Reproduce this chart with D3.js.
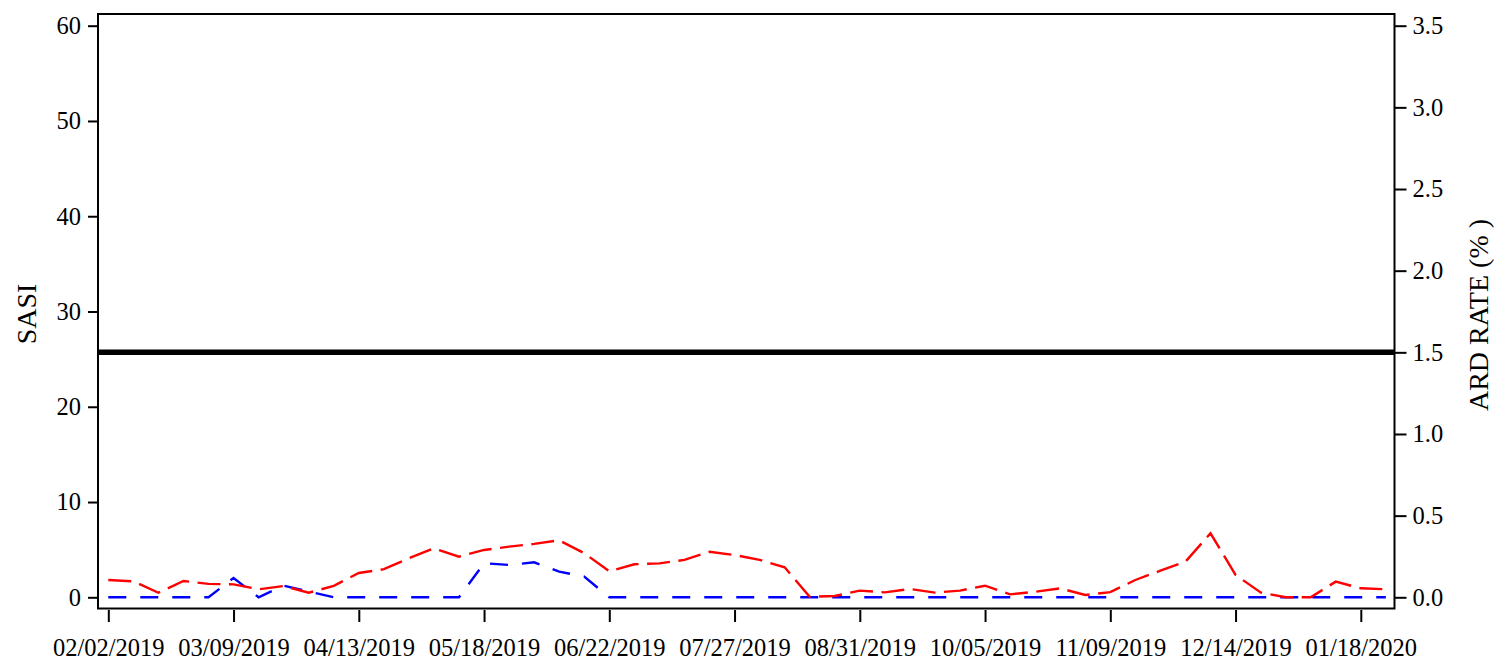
<!DOCTYPE html>
<html>
<head>
<meta charset="utf-8">
<script src="https://cdn.jsdelivr.net/npm/d3@7"></script>
<style>
    body { margin: 0; background: white; }
    svg { display: block; font-family: "Liberation Serif", "Times New Roman", serif; }
    .tick text { font-size: 24.5px; fill: black; font-family: "Liberation Serif", "Times New Roman", serif; }
    .tick line { stroke: black; stroke-width: 2; }
    .axisTitle { font-size: 28px; fill: black; }
</style>
</head>
<body>
<script>
'use strict';

// weekly categories (week starting dates)
const weeks = [
    '02/02/2019', '02/09/2019', '02/16/2019', '02/23/2019', '03/02/2019', '03/09/2019', '03/16/2019',
    '03/23/2019', '03/30/2019', '04/06/2019', '04/13/2019', '04/20/2019', '04/27/2019', '05/04/2019',
    '05/11/2019', '05/18/2019', '05/25/2019', '06/01/2019', '06/08/2019', '06/15/2019', '06/22/2019',
    '06/29/2019', '07/06/2019', '07/13/2019', '07/20/2019', '07/27/2019', '08/03/2019', '08/10/2019',
    '08/17/2019', '08/24/2019', '08/31/2019', '09/07/2019', '09/14/2019', '09/21/2019', '09/28/2019',
    '10/05/2019', '10/12/2019', '10/19/2019', '10/26/2019', '11/02/2019', '11/09/2019', '11/16/2019',
    '11/23/2019', '11/30/2019', '12/07/2019', '12/14/2019', '12/21/2019', '12/28/2019', '01/04/2020',
    '01/11/2020', '01/18/2020', '01/25/2020'
];

// SASI (left axis), blue
const sasi = [
    0, 0, 0, 0, 0, 2.03, 0, 1.22, 0.6, 0, 0, 0, 0, 0,
    0, 3.57, 3.4, 3.67, 2.69, 2.17, 0, 0, 0, 0, 0, 0, 0, 0,
    0, 0, 0, 0, 0, 0, 0, 0, 0, 0, 0, 0, 0, 0,
    0, 0, 0, 0, 0, 0, 0, 0, 0, 0
];

// ARD rate in % (right axis), red
const ardRate = [
    0.106, 0.098, 0.028, 0.100, 0.082, 0.079, 0.049, 0.069, 0.028, 0.070, 0.149, 0.172, 0.239, 0.300,
    0.249, 0.290, 0.310, 0.327, 0.349, 0.270, 0.159, 0.202, 0.208, 0.229, 0.279, 0.259, 0.229, 0.184,
    0.003, 0.008, 0.041, 0.030, 0.051, 0.029, 0.041, 0.071, 0.018, 0.034, 0.055, 0.014, 0.032, 0.106,
    0.163, 0.218, 0.392, 0.137, 0.030, 0, 0, 0.096, 0.055, 0.049
];

const threshold = 1.5; // ARD rate reference line (%)

const xTickLabels = ['02/02/2019', '03/09/2019', '04/13/2019', '05/18/2019', '06/22/2019', '07/27/2019',
    '08/31/2019', '10/05/2019', '11/09/2019', '12/14/2019', '01/18/2020'];
const leftTicks = [0, 10, 20, 30, 40, 50, 60];
const rightTicks = [0, 0.5, 1.0, 1.5, 2.0, 2.5, 3.0, 3.5];

(function () {

    const parse = d3.utcParse('%m/%d/%Y');

    function getPlotArea() {
        return {
            svg: { width: 1494, height: 660 },
            frame: { left: 98, right: 1394.5, top: 14, bottom: 608.5 },
            xRange: [108.3, 1360.8],   // first week .. 01/18/2020
            yRange: [597.3, 25.7]
        };
    }

    function makeScales(plot) {
        return {
            x: d3.scaleUtc()
                .domain([parse(weeks[0]), parse('01/18/2020')])
                .range(plot.xRange),
            yLeft: d3.scaleLinear().domain([0, 60]).range(plot.yRange),
            yRight: d3.scaleLinear().domain([0, 3.5]).range(plot.yRange)
        };
    }

    function appendFrame(svg, plot) {
        const f = plot.frame;
        svg.append('rect')
            .attr('x', f.left)
            .attr('y', f.top)
            .attr('width', f.right - f.left)
            .attr('height', f.bottom - f.top)
            .attr('fill', 'none')
            .attr('stroke', 'black')
            .attr('stroke-width', 2);
    }

    function appendXAxis(svg, scales, plot) {
        const axis = d3.axisBottom(scales.x)
            .tickValues(xTickLabels.map(parse))
            .tickFormat(d3.utcFormat('%m/%d/%Y'))
            .tickSize(12);
        const g = svg.append('g')
            .attr('transform', 'translate(0,' + (plot.frame.bottom + 1.5) + ')')
            .call(axis)
            .attr('font-family', null)
            .attr('font-size', null);
        g.select('.domain').remove();
        g.selectAll('.tick text').attr('y', 29).attr('dy', '0.71em');
    }

    function appendLeftAxis(svg, scales, plot) {
        const axis = d3.axisLeft(scales.yLeft)
            .tickValues(leftTicks)
            .tickSize(10)
            .tickPadding(7);
        const g = svg.append('g')
            .attr('transform', 'translate(' + plot.frame.left + ',0)')
            .call(axis)
            .attr('font-family', null)
            .attr('font-size', null);
        g.select('.domain').remove();
    }

    function appendRightAxis(svg, scales, plot) {
        const axis = d3.axisRight(scales.yRight)
            .tickValues(rightTicks)
            .tickFormat(d3.format('.1f'))
            .tickSize(12)
            .tickPadding(6);
        const g = svg.append('g')
            .attr('transform', 'translate(' + plot.frame.right + ',0)')
            .call(axis)
            .attr('font-family', null)
            .attr('font-size', null);
        g.select('.domain').remove();
    }

    function appendThreshold(svg, scales, plot) {
        svg.append('line')
            .attr('x1', plot.frame.left)
            .attr('x2', plot.frame.right)
            .attr('y1', scales.yRight(threshold))
            .attr('y2', scales.yRight(threshold))
            .attr('stroke', 'black')
            .attr('stroke-width', 5.5);
    }

    function appendSeries(svg, values, x, y, color, dash) {
        const line = d3.line()
            .x((d, i) => x(parse(weeks[i])))
            .y((d) => y(d));
        svg.append('path')
            .datum(values)
            .attr('d', line)
            .attr('fill', 'none')
            .attr('stroke', color)
            .attr('stroke-width', 2.4)
            .attr('stroke-dasharray', dash);
    }

    function appendTitles(svg) {
        svg.append('text')
            .attr('class', 'axisTitle')
            .attr('transform', 'translate(36,314) rotate(-90)')
            .attr('text-anchor', 'middle')
            .text('SASI');
        svg.append('text')
            .attr('class', 'axisTitle')
            .attr('transform', 'translate(1488,315) rotate(-90)')
            .attr('text-anchor', 'middle')
            .text('ARD RATE (% )');
    }

    function draw() {
        const plot = getPlotArea();
        const scales = makeScales(plot);
        const svg = d3.select('body').append('svg')
            .attr('width', plot.svg.width)
            .attr('height', plot.svg.height);
        appendSeries(svg, sasi, scales.x, scales.yLeft, 'blue', '18,14');
        appendSeries(svg, ardRate, scales.x, scales.yRight, 'red', '23,8.5');
        appendThreshold(svg, scales, plot);
        appendFrame(svg, plot);
        appendXAxis(svg, scales, plot);
        appendLeftAxis(svg, scales, plot);
        appendRightAxis(svg, scales, plot);
        appendTitles(svg);
    }

    draw();

})();
</script>
</body>
</html>
